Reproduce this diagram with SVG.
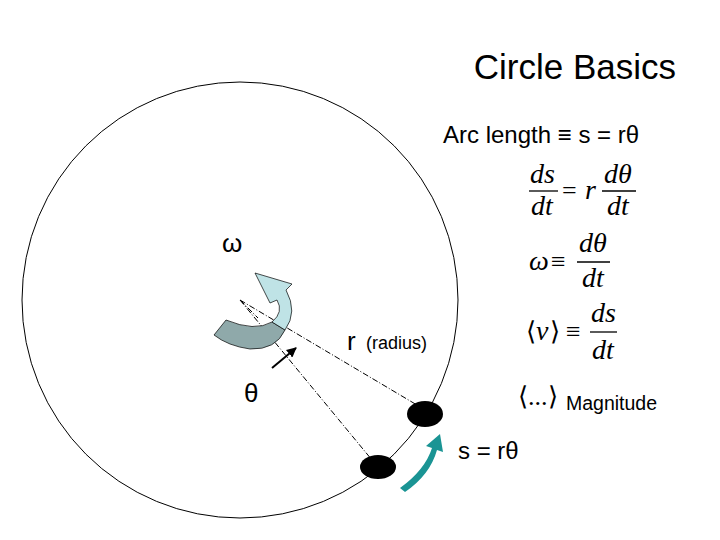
<svg xmlns="http://www.w3.org/2000/svg" width="720" height="540" viewBox="0 0 720 540">
<style>
.s{font-family:"Liberation Sans",Arial,sans-serif;fill:#000}
.m{font-family:"Liberation Serif","Times New Roman",serif;font-style:italic;font-size:28px;fill:#000}
.n{font-family:"Liberation Serif","Times New Roman",serif;font-size:26px;fill:#000}
.fl{stroke:#000;stroke-width:1.3}
.d{stroke:#000;stroke-width:1;stroke-dasharray:6 2 1 2;fill:none}
</style>
<defs><marker id="ah" viewBox="0 0 10 10" refX="9" refY="5" markerWidth="5" markerHeight="5" orient="auto"><path d="M0 0L10 5L0 10z" fill="#000"/></marker></defs>
<rect width="720" height="540" fill="#fff"/>
<g id="circle"><circle cx="240" cy="300" r="218" fill="none" stroke="#000" stroke-width="1"/></g>
<g id="connectors">
<line class="d" x1="240" y1="300" x2="422" y2="408"/>
<line class="d" x1="240" y1="300" x2="372" y2="460"/>
<line class="d" x1="240" y1="300" x2="258" y2="318"/>
<line x1="272" y1="368" x2="296" y2="348" stroke="#000" stroke-width="2" marker-end="url(#ah)"/>
<path d="M400 488 Q425 470 432 448 L426 446 L440 434 L443 452 L437 450 Q430 475 405 492 Z" fill="#1a9494"/>
</g>
<g id="rotation">
<path d="M214 335 L226 320 Q255 332 272 322 L285 330 Q276 350 250 349 Q228 346 214 335Z" fill="#8fa9aa" stroke="#000" stroke-width="0.7"/>
<path d="M272 322 Q284 312 277 300 L270 303 L255 273 L292 284 L286 290 Q298 312 285 330 Z" fill="#bfe3e6" stroke="#000" stroke-width="0.7"/>
</g>
<g id="dots">
<ellipse cx="425" cy="414" rx="18" ry="13" fill="#000"/>
<ellipse cx="378" cy="467" rx="18" ry="12" fill="#000"/>
</g>
<g id="labels">
<text class="s" x="676" y="79" font-size="35" text-anchor="end">Circle Basics</text>
<text class="s" x="443" y="143" font-size="24">Arc length ≡ s = rθ</text>
<text class="s" x="222" y="252" font-size="26">ω</text>
<text class="s" x="347" y="350" font-size="26">r</text>
<text class="s" x="366" y="349" font-size="18">(radius)</text>
<text class="s" x="244" y="402" font-size="26">θ</text>
<text class="s" x="458" y="459" font-size="24">s = rθ</text>
<text class="s" x="566" y="410" font-size="19.5">Magnitude</text>
<text class="n" x="518" y="405" font-size="16">⟨...⟩</text>
</g>
<g id="equations">
<text class="m" x="530" y="183">ds</text><line class="fl" x1="529" y1="191" x2="558" y2="191"/><text class="m" x="531" y="215">dt</text>
<text class="n" x="562" y="199">=</text><text class="m" x="585" y="199">r</text>
<text class="m" x="604" y="183">dθ</text><line class="fl" x1="602" y1="191" x2="636" y2="191"/><text class="m" x="607" y="215">dt</text>
<text class="m" x="529" y="270">ω</text><text class="n" x="551" y="270">≡</text>
<text class="m" x="579" y="252">dθ</text><line class="fl" x1="577" y1="262" x2="610" y2="262"/><text class="m" x="582" y="287">dt</text>
<text class="n" x="526" y="340">⟨</text><text class="m" x="536" y="340">v</text><text class="n" x="550" y="340">⟩</text><text class="n" x="566" y="340">≡</text>
<text class="m" x="591" y="322">ds</text><line class="fl" x1="590" y1="332" x2="617" y2="332"/><text class="m" x="592" y="359">dt</text>
</g>
</svg>
